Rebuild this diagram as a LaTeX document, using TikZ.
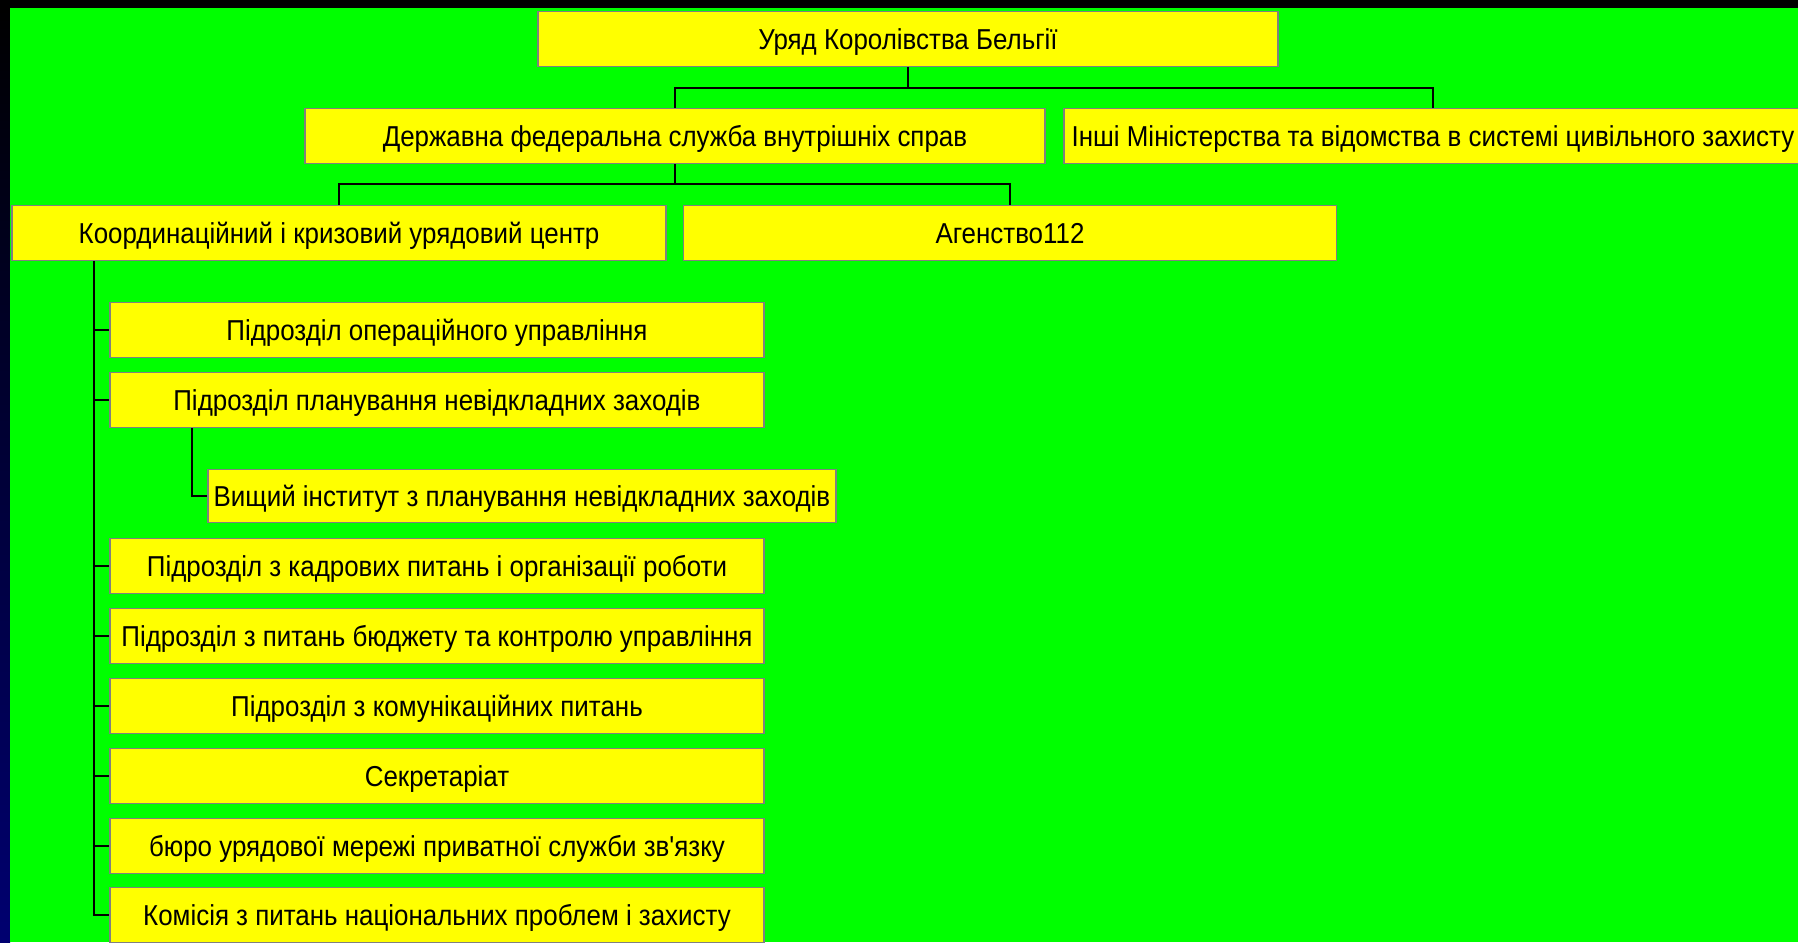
\documentclass[tikz,border=0pt]{standalone}
\usepackage{fontspec}
\setmainfont[FakeStretch=0.9]{Liberation Sans}
\newfontfamily\plainfont[FakeStretch=0.9]{Liberation Sans}
\definecolor{scrgreen}{HTML}{00FF00}
\definecolor{boxyellow}{HTML}{FFFF00}
\definecolor{edgegray}{HTML}{808080}
\definecolor{darknavy}{HTML}{000070}
\tikzset{
	unit/.style={draw=edgegray, line width=1.5pt, fill=boxyellow, inner sep=0pt,
		minimum height=55pt, text height=26.8pt, text depth=6pt,
		font=\fontsize{28.8}{34}\selectfont},
	link/.style={draw=black, line width=1.3pt}
}

\begin{document}
\begin{tikzpicture}[x=1pt,y=-1pt]
			\useasboundingbox (0,0) rectangle (1798,942);
			\fill[black] (0,0) rectangle (1798,942);
			\shade[top color=black, bottom color=darknavy] (0,8) rectangle (10,942);
			\fill[scrgreen] (10,8) rectangle (1798,942);
			% top levels
			\node[unit, minimum width=740pt] (gov) at (908,39) {Уряд Королівства Бельгії};
			\node[unit, minimum width=740pt] (dfs) at (675,136) {Державна федеральна служба внутрішніх справ};
			\node[unit, minimum width=738pt] (other) at (1433,136) {Інші Міністерства та відомства в системі цивільного захисту};
			\node[unit, minimum width=654pt] (kkc) at (339,233) {Координаційний і кризовий урядовий центр};
			\node[unit, minimum width=653pt] (agency) at (1010,233) {Агенство112};
			% units of the centre
			\node[unit, minimum width=654pt] (u1) at (437,330) {Підрозділ операційного управління};
			\node[unit, minimum width=654pt] (u2) at (437,400) {Підрозділ планування невідкладних заходів};
			\node[unit, minimum width=628pt, minimum height=53pt] (inst) at (522,496) {Вищий інститут з планування невідкладних заходів};
			\node[unit, minimum width=654pt] (u4) at (437,566) {Підрозділ з кадрових питань і організації роботи};
			\node[unit, minimum width=654pt] (u5) at (437,636) {Підрозділ з питань бюджету та контролю управління};
			\node[unit, minimum width=654pt] (u6) at (437,706) {Підрозділ з комунікаційних питань};
			\node[unit, minimum width=654pt] (u7) at (437,776) {Секретаріат};
			\node[unit, minimum width=654pt] (u8) at (437,846) {бюро урядової мережі приватної служби зв{\plainfont '}язку};
			\node[unit, minimum width=654pt] (u9) at (437,915) {Комісія з питань національних проблем і захисту};
			% connectors
			\coordinate (bus1) at (908,88);
			\coordinate (bus2) at (675,184);
			\coordinate (spine) at (94,0);
			\coordinate (subspine) at (192,0);
			\draw[link] (gov.south) -- (bus1);
			\draw[link] (dfs.north) |- (bus1) -| (other.north);
			\draw[link] (dfs.south) -- (bus2);
			\draw[link] (kkc.north) |- (bus2) -| (agency.north);
			\foreach \u in {u1,u2,u4,u5,u6,u7,u8,u9}
				\draw[link] (kkc.south -| spine) |- (\u.west);
			\draw[link] (u2.south -| subspine) |- (inst.west);
		\end{tikzpicture}
\end{document}
